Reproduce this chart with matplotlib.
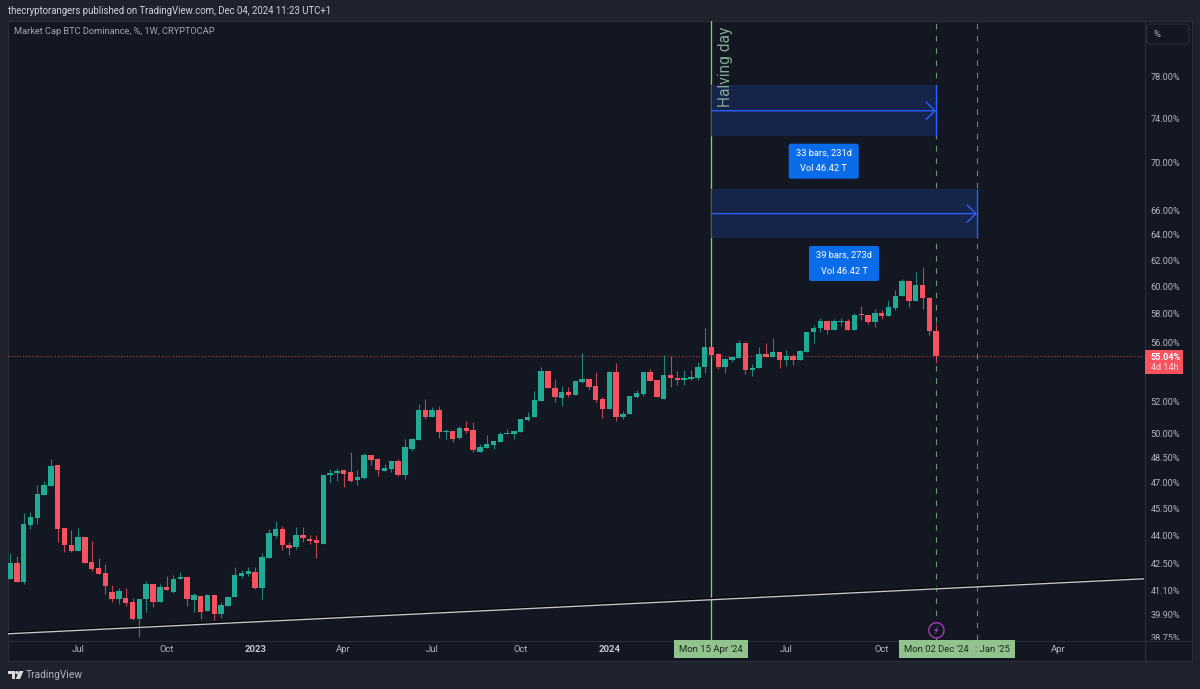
import matplotlib
matplotlib.use('Agg')
import matplotlib.pyplot as plt
import matplotlib.patheffects as pe
from matplotlib.patches import Rectangle, FancyBboxPatch, Circle, Polygon
from matplotlib.transforms import Bbox
import numpy as np

# weekly candles, BTC dominance in %
opens = [41.71, 42.56, 41.57, 44.61, 44.98, 46.28, 46.82, 48.06, 44.46, 43.52,
         43.18, 43.93, 42.60, 42.28, 42.00, 41.02, 40.69, 40.71, 40.51, 39.66,
         40.66, 41.45, 40.54, 41.28, 41.05, 41.68, 41.78, 40.62, 40.83, 40.07,
         40.88, 39.91, 40.34, 40.79, 41.87, 41.98, 42.07, 41.23, 42.83, 44.01,
         44.37, 43.52, 43.40, 44.03, 43.85, 43.77, 43.57, 47.47, 47.60, 47.78,
         47.65, 47.18, 47.31, 48.66, 48.41, 47.72, 47.82, 48.29, 47.47, 49.05,
         49.58, 51.49, 51.03, 51.49, 50.06, 50.14, 49.69, 50.31, 50.20, 48.86,
         49.11, 49.27, 49.48, 49.96, 49.96, 50.08, 50.82, 50.99, 52.06, 54.05,
         52.90, 52.25, 52.62, 52.45, 53.31, 53.47, 53.01, 52.18, 51.54, 53.96,
         50.99, 51.19, 52.31, 52.51, 53.96, 53.42, 52.20, 53.78, 53.58, 53.40,
         53.49, 53.58, 54.28, 55.68, 55.17, 54.32, 54.80, 54.90, 55.92, 54.12,
         54.22, 55.17, 55.00, 55.30, 54.76, 55.05, 54.76, 55.34, 56.69, 57.02,
         57.52, 56.87, 57.43, 57.48, 56.85, 58.01, 57.96, 57.45, 58.08, 57.89,
         58.41, 59.29, 60.44, 58.94, 60.14, 59.16, 56.79]
highs = [43.06, 42.92, 45.26, 45.33, 46.86, 47.13, 48.41, 48.06, 44.46, 44.33,
         44.42, 43.93, 43.72, 42.81, 42.48, 41.37, 41.25, 41.22, 40.74, 40.69,
         41.62, 41.45, 41.42, 41.85, 41.91, 42.07, 41.78, 40.97, 40.83, 40.93,
         40.88, 40.52, 40.84, 42.35, 42.17, 42.33, 42.33, 43.09, 44.38, 44.81,
         44.55, 43.65, 44.48, 44.48, 44.07, 44.05, 47.47, 47.80, 47.86, 47.78,
         48.84, 47.74, 48.76, 48.66, 48.45, 48.13, 48.29, 48.39, 49.63, 49.73,
         51.86, 52.17, 51.65, 51.69, 50.26, 50.14, 50.43, 50.76, 50.70, 49.34,
         49.88, 49.52, 50.10, 50.26, 50.12, 50.88, 51.34, 52.71, 54.30, 54.05,
         53.47, 53.03, 52.97, 53.37, 55.24, 53.47, 53.96, 52.33, 54.01, 54.56,
         51.39, 52.40, 52.77, 53.96, 54.17, 53.42, 55.12, 55.05, 54.01, 54.10,
         54.10, 54.66, 57.00, 55.73, 55.26, 54.90, 54.96, 56.12, 56.02, 54.51,
         55.64, 55.92, 56.26, 55.30, 55.46, 55.17, 55.46, 56.74, 57.20, 57.70,
         57.52, 57.62, 57.70, 57.67, 58.06, 58.58, 57.96, 58.34, 58.29, 59.03,
         59.74, 60.57, 60.52, 61.15, 61.50, 59.21, 57.34]
lows = [41.69, 41.54, 41.45, 44.38, 44.66, 46.28, 46.82, 43.65, 43.15, 43.15,
        43.18, 42.56, 42.12, 41.94, 40.93, 40.54, 40.44, 40.32, 39.61, 38.80,
        40.03, 40.27, 40.54, 41.13, 41.00, 41.68, 40.32, 40.00, 39.66, 40.07,
        39.60, 39.73, 40.34, 40.79, 41.75, 41.85, 41.18, 40.69, 42.83, 43.90,
        43.24, 42.97, 43.29, 43.68, 43.56, 42.83, 43.57, 47.02, 47.13, 46.76,
        47.07, 46.90, 47.25, 48.06, 47.41, 47.72, 47.65, 47.41, 47.23, 48.91,
        49.58, 50.88, 51.03, 49.71, 49.65, 49.48, 49.63, 50.02, 48.84, 48.86,
        49.11, 49.01, 49.48, 49.96, 49.67, 50.08, 50.74, 50.99, 52.06, 52.88,
        51.99, 51.69, 52.31, 52.45, 53.23, 52.77, 51.99, 50.93, 51.54, 50.78,
        50.90, 51.19, 52.25, 52.34, 53.37, 52.31, 52.20, 52.98, 53.10, 53.11,
        53.42, 53.44, 53.92, 54.90, 54.19, 53.92, 54.66, 54.90, 53.85, 53.71,
        54.22, 55.00, 55.00, 54.22, 54.37, 54.44, 54.76, 55.34, 55.92, 56.74,
        56.57, 56.87, 57.16, 56.87, 56.85, 57.57, 57.31, 57.09, 57.65, 57.89,
        58.27, 59.29, 58.53, 58.94, 58.36, 56.52, 54.56]
closes = [42.56, 41.54, 44.66, 45.04, 46.35, 46.90, 48.00, 44.38, 43.49, 43.18,
          43.93, 42.56, 42.23, 41.94, 41.34, 40.69, 41.07, 40.47, 39.66, 40.69,
          41.42, 40.51, 41.27, 41.13, 41.68, 41.80, 40.66, 40.88, 40.00, 40.86,
          39.91, 40.37, 40.78, 41.91, 42.03, 42.12, 41.25, 42.85, 44.16, 44.38,
          43.49, 43.36, 44.03, 43.90, 43.73, 43.61, 47.47, 47.59, 47.72, 47.55,
          47.13, 47.33, 48.66, 48.33, 47.78, 47.88, 48.29, 47.47, 49.15, 49.63,
          51.49, 51.03, 51.49, 50.08, 50.12, 49.67, 50.31, 50.16, 48.97, 49.15,
          49.34, 49.52, 49.96, 50.00, 50.12, 50.88, 51.03, 52.10, 54.03, 52.88,
          52.31, 52.62, 52.46, 53.37, 53.47, 52.97, 52.14, 51.54, 53.96, 50.99,
          51.23, 52.40, 52.56, 53.96, 53.37, 52.31, 53.78, 53.58, 53.42, 53.54,
          53.60, 54.30, 55.68, 55.12, 54.32, 54.85, 54.96, 55.92, 54.12, 54.26,
          55.17, 55.00, 55.32, 54.76, 55.05, 54.76, 55.39, 56.74, 57.00, 57.52,
          56.87, 57.48, 57.50, 56.87, 57.96, 57.96, 57.45, 58.08, 57.89, 58.49,
          59.33, 60.44, 58.94, 60.14, 59.18, 56.77, 55.04]

# 54.00% sits behind the last price label in the picture, so it is left out
price_ticks = [78, 74, 70, 66, 64, 62, 60, 58, 56, 52, 50, 48.5, 47, 45.5, 44, 42.5, 41.1, 39.9, 38.75]
time_ticks = [10, 23, 36, 49, 62, 75, 88, 114, 128, 154]
time_labels = ['Jul', 'Oct', '2023', 'Apr', 'Jul', 'Oct', '2024', 'Jul', 'Oct', 'Apr']

last_price = 55.04
halving_bar = 103
range_bars = [33, 39]
range_boxes = [(72.38, 77.10, 74.70), (63.72, 67.76, 65.72)]
trend_bars = [-0.29, 166.5]
trend_values = [38.95, 41.71]

BG = '#1e222d'
PANEL = '#131722'
BORDER = '#2a2e39'
UP = '#22ab94'
DOWN = '#f7525f'
BLUE = '#2962ff'
SAGE = '#91c48c'
AXIS_TXT = '#b2b5be'

plt.rcParams['font.family'] = ['Roboto', 'DejaVu Sans']

W, H = 1200, 689
fig = plt.figure(figsize=(12, 6.89), dpi=100, facecolor=BG)

# pixel space background, panels and separators
bg = fig.add_axes([0, 0, 1, 1], zorder=0)
bg.set_xlim(0, W)
bg.set_ylim(H, 0)
bg.axis('off')
bg.add_patch(Rectangle((8, 21), 1184, 640, fc=PANEL, ec=BORDER, lw=0.8))
bg.plot([1144.5, 1144.5], [21, 661], color=BORDER, lw=0.8)
bg.plot([8, 1192], [640.5, 640.5], color=BORDER, lw=0.8)

# main chart: x is bar number, y is log price
left, right, top, bottom = 8, 1144, 21, 640
ax = fig.add_axes([left / W, 1 - bottom / H, (right - left) / W, (bottom - top) / H], zorder=1)
ax.patch.set_visible(False)
bar_px = 6.81
ax.set_xlim((left - 10) / bar_px, (right - 10) / bar_px)
ax.set_yscale('log')
ax.set_ylim(38.65, 83.53)
for s in ax.spines.values():
    s.set_visible(False)

ax.yaxis.tick_right()
ax.set_yticks(price_ticks)
ax.set_yticklabels([f'{v:.2f}%' for v in price_ticks])
ax.minorticks_off()
ax.tick_params(axis='y', length=0, pad=4.8, labelsize=6.6, labelcolor=AXIS_TXT)
ax.set_xticks(time_ticks)
ax.set_xticklabels(time_labels)
ax.tick_params(axis='x', length=0, pad=3.6, labelsize=6.8, labelcolor=AXIS_TXT)
for lbl in ax.get_xticklabels():
    if lbl.get_text() in ('2023', '2024'):
        lbl.set_fontweight('bold')
        lbl.set_color('#c8cad2')
# lowest price label is cut off by the time scale
for lbl in ax.get_yticklabels():
    lbl.set_clip_box(Bbox([[1145, H - 640], [1192, H - 21]]))
    lbl.set_clip_on(True)

# vertical markers and last price line
ax.axvline(halving_bar, color=SAGE, lw=1.0, zorder=2,
           path_effects=[pe.Stroke(linewidth=1.8, foreground='#0b0d12', offset=(-0.6, 0)), pe.Normal()])
ax.axvline(halving_bar + range_bars[0], color='#6f9578', lw=0.8, ls=(0, (5, 6)), zorder=2)
ax.axvline(halving_bar + range_bars[1], color='#78807c', lw=0.8, ls=(0, (5, 6)), zorder=2)
ax.axhline(last_price, color='#a8404b', lw=0.8, ls=(0, (1, 1.6)), zorder=2)

# date range boxes
for n, (lo, hi, mid) in zip(range_bars, range_boxes):
    end = halving_bar + n
    ax.add_patch(Rectangle((halving_bar, lo), n, hi - lo, fc='#172449', ec='none', zorder=3))
    ax.vlines([halving_bar, end], lo, hi, color=[BLUE, BLUE], lw=[0.5, 1.0], zorder=4)
    ax.annotate('', xy=(end, mid), xytext=(halving_bar, mid), zorder=4,
                arrowprops=dict(arrowstyle='->,head_length=0.65,head_width=0.62', color=BLUE,
                                lw=1.0, shrinkA=0, shrinkB=0, mutation_scale=10))

# trend line
ax.plot(trend_bars, trend_values, color='#c4c7ce', lw=0.95, zorder=4,
        path_effects=[pe.Stroke(linewidth=1.5, foreground='#05070b', offset=(0, 0.7)), pe.Normal()])

# candles
bars = np.arange(len(opens))
o, h, l, c = map(np.array, (opens, highs, lows, closes))
is_up = c >= o
colors = np.where(is_up, UP, DOWN)
ax.vlines(bars, l, h, colors=colors, lw=0.8, alpha=0.75, zorder=5)
ax.bar(bars, np.maximum(np.abs(c - o), 0.03), bottom=np.minimum(o, c), width=0.8, color=colors,
       edgecolor='none', zorder=6)

# overlay for labels and furniture, same pixel space as the background
ov = fig.add_axes([0, 0, 1, 1], zorder=2)
ov.set_xlim(0, W)
ov.set_ylim(H, 0)
ov.axis('off')
ov.patch.set_visible(False)

ov.text(8, 11, 'thecryptorangers published on TradingView.com, Dec 04, 2024 11:23 UTC+1',
        color='#d1d4dc', fontsize=6.9, va='center', ha='left')
ov.text(14, 32, 'Market Cap BTC Dominance, %, 1W, CRYPTOCAP', color='#a3a6af', fontsize=6.7, va='center', ha='left')

ov.text(725.5, 107, 'Halving day', rotation=90, color='#84a893', fontsize=11.2, ha='center', va='bottom')

for (x0, y0, label) in [(788.7, 143.7, '33 bars, 231d'), (809, 246, '39 bars, 273d')]:
    ov.add_patch(FancyBboxPatch((x0 + 1, y0 + 1), 68, 33, boxstyle='round,pad=1,rounding_size=2',
                                fc='#0b6ce9', ec='none'))
    ov.text(x0 + 35, y0 + 9.5, label, color='white', fontsize=6.7, ha='center', va='center')
    ov.text(x0 + 35, y0 + 25, 'Vol 46.42 T', color='white', fontsize=6.7, ha='center', va='center')

# last price label
ov.add_patch(Rectangle((1144.7, 350.3), 38.6, 23.7, fc=DOWN, ec='none'))
ov.text(1150.7, 357, '55.04%', color='white', fontsize=6.6, fontweight='bold', ha='left', va='center')
ov.text(1150.7, 368, '4d 14h', color='#ffd6da', fontsize=6.6, ha='left', va='center')

# percent button
ov.add_patch(FancyBboxPatch((1148, 25), 40, 18, boxstyle='round,pad=1,rounding_size=3', fc=PANEL, ec=BORDER, lw=0.8))
ov.text(1156.7, 34.5, '%', color='#b2b5be', fontsize=6.8, ha='center', va='center')

# crosshair date labels
ov.add_patch(Rectangle((673.6, 640), 74.6, 18, fc=SAGE, ec='none'))
ov.text(711, 649.5, "Mon 15 Apr '24", color='#1c2a1f', fontsize=6.8, ha='center', va='center')
ov.add_patch(Rectangle((898.6, 640), 116.4, 18, fc=SAGE, ec='none'))
ov.text(936, 649.5, "Mon 02 Dec '24", color='#1c2a1f', fontsize=6.8, ha='center', va='center')
ov.text(992, 649.5, ": Jan '25", color='#1c2a1f', fontsize=6.8, ha='center', va='center')

# flash icon under the last bar
ov.add_patch(Circle((936.4, 630.3), 7.6, fc=PANEL, ec='#a23ab5', lw=1.0))
ov.add_patch(Polygon([(938.6, 625.5), (934, 631), (936.3, 631), (934.2, 635), (938.8, 629.6), (936.5, 629.6)],
                     fc='#a23ab5', ec='none'))

# footer logo
ov.add_patch(Polygon([(8, 671), (15, 671), (15, 679), (11.5, 679), (11.5, 674), (8, 674)], fc='#d8dade', ec='none'))
ov.add_patch(Circle((16.8, 672.6), 1.6, fc='#d8dade', ec='none'))
ov.add_patch(Polygon([(19, 671), (23.5, 671), (20, 679), (15.8, 679)], fc='#d8dade', ec='none'))
ov.text(26, 675.3, 'TradingView', color='#b2b5be', fontsize=7.4, ha='left', va='center')

fig.savefig('out.png', dpi=100, facecolor=BG)
plt.close(fig)
